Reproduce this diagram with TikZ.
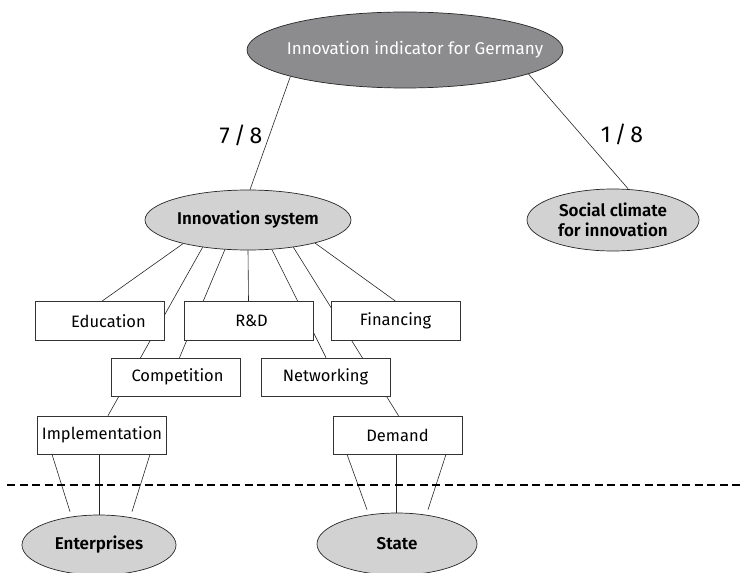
\documentclass[tikz,border=0pt]{standalone}
\usepackage{fontspec}
\setmainfont{Fira Sans}[BoldFont={Fira Sans SemiBold}]
\usetikzlibrary{shapes.geometric,backgrounds}
\definecolor{darkg}{RGB}{140,140,142}
\definecolor{lightg}{RGB}{210,210,210}
\begin{document}
\begin{tikzpicture}[x=1pt,y=-1pt,
  ell/.style={ellipse, draw=black!85, line width=0.7pt, inner sep=0pt},
  darkell/.style={ell, fill=darkg, text=white, font=\fontsize{17}{20}\selectfont},
  lightell/.style={ell, fill=lightg, font=\fontsize{17}{20}\selectfont\bfseries, align=center},
  box/.style={draw=black!80, fill=white, line width=0.7pt, minimum width=129pt, minimum height=38pt, inner sep=0pt, font=\fontsize{16.5}{19}\selectfont},
  conn/.style={line width=0.6pt, draw=black!85},
  frac/.style={font=\fontsize{23}{26}\selectfont},
  sep/.style={line width=1.7pt, dash pattern=on 8pt off 4.5pt}
]
\useasboundingbox (0,0) rectangle (743,572);
\clip (0,0) rectangle (743,572);

% ellipses
\node[darkell, minimum width=316pt, minimum height=76pt] (top) at (405,50) {\makebox[0pt][c]{\hspace*{20pt}Innovation indicator for Germany}};
\node[lightell, minimum width=206pt, minimum height=60pt] (isys) at (248,220) {Innovation system};
\node[lightell, minimum width=172pt, minimum height=62pt] (soc) at (613,220) {Social climate\\for innovation};
\node[lightell, minimum width=154pt, minimum height=60pt] (ent) at (99,545) {Enterprises};
\node[lightell, minimum width=160pt, minimum height=62pt] (state) at (397,544) {State};

% boxes
\node[box, minimum height=39pt] (edu) at (99.5,321) {\hspace*{18pt}Education};
\node[box, minimum height=39pt] (rd) at (248.5,321) {\hspace*{6pt}R\&D};
\node[box, minimum height=39pt] (fin) at (395.5,321) {Financing};
\node[box] (comp) at (175.5,377) {\hspace*{4pt}Competition};
\node[box] (net) at (325.5,377) {Networking};
\node[box] (impl) at (102,435) {Implementation};
\node[box] (dem) at (397.5,435) {Demand};

% weights
\node[frac] (w1) at (241,135) {7\,/\,8};
\node[frac] (w2) at (622,134) {1\,/\,8};

% separator
\coordinate (sl) at (7,485);
\coordinate (sr) at (743,485);
\draw[sep] (sl) -- (sr);

\begin{pgfonlayer}{background}
\draw[conn] (top.193) -- ([xshift=2pt]isys.north);
\draw[conn] (top.349) -- ([xshift=15pt]soc.north);

\draw[conn] (isys.200) -- ([xshift=2.5pt]edu.north);
\draw[conn] (isys.211) -- ([xshift=6pt]impl.north);
\draw[conn] (isys.232) -- ([xshift=4pt]comp.north);
\draw[conn] (isys.south) -- (rd.north);
\draw[conn] (isys.309) -- ([xshift=0.5pt]net.north);
\draw[conn] (isys.329) -- ([xshift=1pt]dem.north);
\draw[conn] (isys.341) -- (fin.north);

\draw[conn] ([xshift=-50pt]impl.south) -- ([xshift=-29pt,yshift=3pt]ent.north);
\draw[conn] ([xshift=-3pt]impl.south) -- (ent.north);
\draw[conn] ([xshift=48pt]impl.south) -- ([xshift=33pt,yshift=3pt]ent.north);

\draw[conn] ([xshift=-50.5pt]dem.south) -- ([xshift=-30pt,yshift=3pt]state.north);
\draw[conn] ([xshift=-1.5pt]dem.south) -- ([xshift=-1pt]state.north);
\draw[conn] ([xshift=48.5pt]dem.south) -- ([xshift=31pt,yshift=3pt]state.north);
\end{pgfonlayer}
\end{tikzpicture}
\end{document}
